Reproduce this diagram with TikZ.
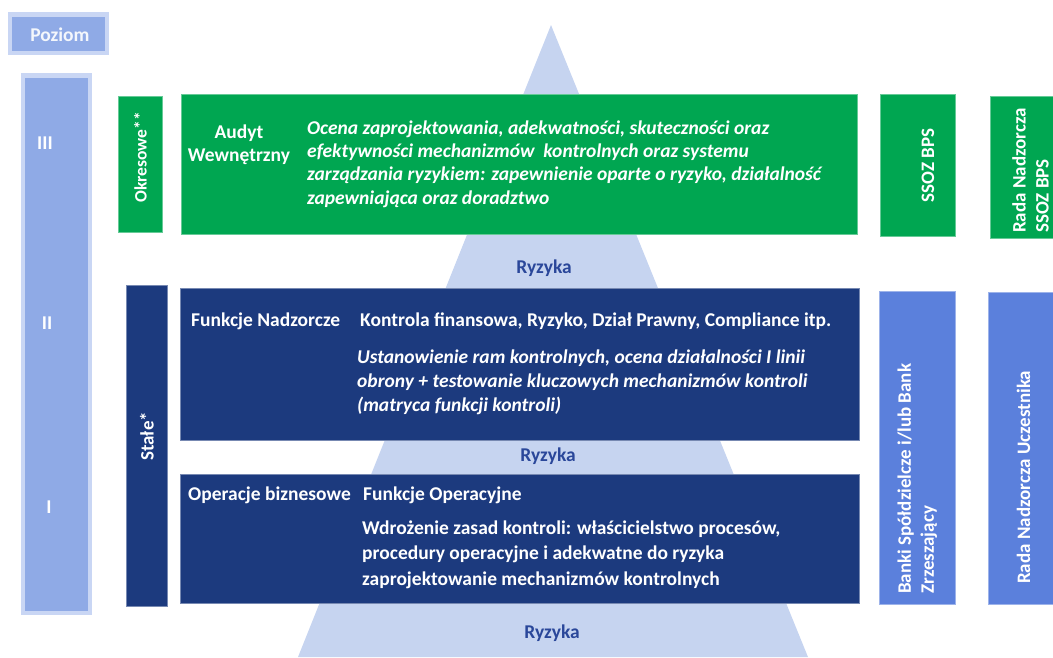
\documentclass[tikz,border=0pt]{standalone}
\usepackage{fontspec}
\setmainfont{Carlito}
\definecolor{grn}{HTML}{00A651}
\definecolor{dblue}{HTML}{1C3A7E}
\definecolor{mblue}{HTML}{5B80DC}
\definecolor{lblue}{HTML}{8FAAE6}
\definecolor{pale}{HTML}{C9D6F4}
\definecolor{pyr}{HTML}{C6D4F0}
\definecolor{ryz}{HTML}{2A479A}
\begin{document}
\begin{tikzpicture}[x=1pt,y=-1pt,
  box/.style={draw=#1!60!white, fill=#1, line width=0.8pt, inner sep=0pt, anchor=north west},
  wtxt/.style={text=white, font=\fontsize{19.5}{23.5}\selectfont\bfseries, inner sep=0pt},
  itxt/.style={text=white, font=\fontsize{19.5}{23.3}\selectfont\bfseries\itshape, inner sep=0pt, align=left, anchor=north west},
  rtxt/.style={text=white, font=\fontsize{19}{23}\selectfont\bfseries, inner sep=0pt, rotate=90, align=left},
  ryzlab/.style={text=ryz, font=\fontsize{19.5}{23}\selectfont\bfseries, inner sep=0pt}]
\useasboundingbox (0,0) rectangle (1053,657);
% pyramid
\fill[pyr] (551,25) -- (808,657) -- (298,657) -- cycle;
% Poziom
\node[box=pale, draw=none, minimum width=101pt, minimum height=43pt] (pozo) at (8,12) {};
\node[box=lblue, draw=none, minimum width=93pt, minimum height=34pt] (poz) at (12,17) {};
\node[wtxt, text=white!90!lblue] at ([xshift=1pt]poz.center) {Poziom};
% level bar
\node[box=pale, draw=none, minimum width=71pt, minimum height=542pt] (levo) at (21,73) {};
\node[box=lblue, draw=none, minimum width=63pt, minimum height=533pt] (lev) at (25,78) {};
\node[wtxt] (l3) at (45,143) {III};
\node[wtxt] (l2) at (47,323) {II};
\node[wtxt] (l1) at (49,507) {I};
% Okresowe / Stale
\node[box=grn, minimum width=44pt, minimum height=136pt] (okr) at (118,96) {};
\node[rtxt, anchor=west, font=\fontsize{17.5}{21}\selectfont\bfseries] at (okr.center|-0,203) {Okresowe**};
\node[box=dblue, minimum width=41pt, minimum height=321pt] (sta) at (126,285) {};
\node[rtxt, anchor=west] at (sta.center|-0,461) {Stałe*};
% Audit box
\node[box=grn, minimum width=676pt, minimum height=140pt] (aud) at (181,94) {};
\node[wtxt, align=center, font=\fontsize{19.5}{23}\selectfont\bfseries] (audt) at (239,145) {Audyt\\Wewnętrzny};
\node[itxt] (audd) at (307,120.5) {Ocena zaprojektowania, adekwatności, skuteczności oraz\\efektywności mechanizmów\ \ kontrolnych oraz systemu\\zarządzania ryzykiem: zapewnienie oparte o ryzyko, działalność\\zapewniająca oraz doradztwo};
\node[ryzlab] (r3) at (544,268) {Ryzyka};
% Nadzorcze box
\node[box=dblue, minimum width=679pt, minimum height=152pt] (nad) at (180,288) {};
\node[wtxt, anchor=west] (nadt) at (191,321) {Funkcje Nadzorcze};
\node[wtxt, anchor=west] (nadk) at (360,321) {Kontrola finansowa, Ryzyko, Dział Prawny, Compliance itp.};
\node[itxt, font=\fontsize{19.5}{24}\selectfont\bfseries\itshape] (nadd) at (357,350) {Ustanowienie ram kontrolnych, ocena działalności I linii\\obrony + testowanie kluczowych mechanizmów kontroli\\(matryca funkcji kontroli)};
\node[ryzlab] (r2) at (548,456) {Ryzyka};
% Operacje box
\node[box=dblue, minimum width=679pt, minimum height=129pt] (ope) at (180,474) {};
\node[wtxt, anchor=west] (opet) at (188,495) {Operacje biznesowe};
\node[wtxt, anchor=west] (opek) at (363,495) {Funkcje Operacyjne};
\node[itxt, font=\fontsize{19.5}{25.5}\selectfont\bfseries] (oped) at (362,520.5) {Wdrożenie zasad kontroli: właścicielstwo procesów,\\procedury operacyjne i adekwatne do ryzyka\\zaprojektowanie mechanizmów kontrolnych};
\node[ryzlab] (r1) at (552,633) {Ryzyka};
% right boxes
\node[box=grn, minimum width=75pt, minimum height=142pt] (ssoz) at (880,94) {};
\node[rtxt] at ([xshift=10pt]ssoz.center) {SSOZ BPS};
\node[box=grn, minimum width=66pt, minimum height=142pt] (rnss) at (990,96) {};
\node[rtxt] at ([xshift=7pt,yshift=-3pt]rnss.center) {Rada Nadzorcza\\SSOZ BPS};
\node[box=mblue, minimum width=76pt, minimum height=313pt] (bank) at (879,291) {};
\node[rtxt, anchor=west] at (bank.center|-0,594) {Banki Spółdzielcze i/lub Bank\\Zrzeszający};
\node[box=mblue, minimum width=68pt, minimum height=312pt] (rnu) at (988,292) {};
\node[rtxt, anchor=west] at ([xshift=1pt]rnu.center|-0,584) {Rada Nadzorcza Uczestnika};
\end{tikzpicture}
\end{document}
